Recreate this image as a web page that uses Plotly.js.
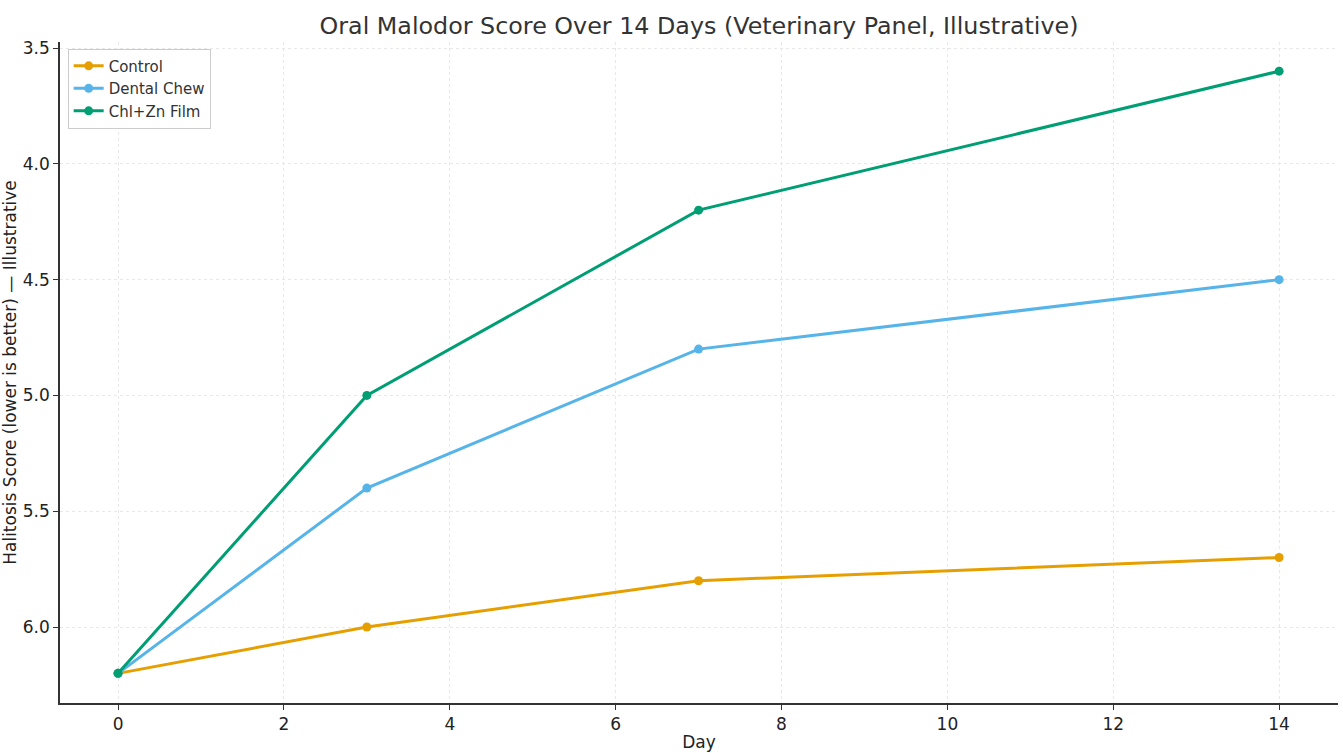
<!DOCTYPE html>
<html><head><meta charset="utf-8">
<script src="https://cdn.plot.ly/plotly-3.0.1.min.js"></script>
<style>html,body{margin:0;padding:0;background:#fff;}#chart{width:1343px;height:753px;}</style>
</head><body><div id="chart"></div>
<script>
const days = [0, 3, 7, 14];
const control = [6.2, 6.0, 5.8, 5.7];
const dentalChew = [6.2, 5.4, 4.8, 4.5];
const chlZnFilm = [6.2, 5.0, 4.2, 3.6];
const seriesNames = ["Control", "Dental Chew", "Chl+Zn Film"];
const colors = ["#E69F00", "#56B4E9", "#009E73"];
const xTicks = [0, 2, 4, 6, 8, 10, 12, 14];
const yTicks = [3.5, 4.0, 4.5, 5.0, 5.5, 6.0];

const traces = [control, dentalChew, chlZnFilm].map((ys, i) => ({
  x: days, y: ys, name: seriesNames[i], type: 'scatter', mode: 'lines+markers',
  line: {color: colors[i], width: 3}, marker: {color: colors[i], size: 9}
}));

const layout = {
  width: 1343, height: 753,
  margin: {l: 60, r: 5, t: 42, b: 50},
  paper_bgcolor: '#fff', plot_bgcolor: '#fff',
  font: {family: 'DejaVu Sans', color: '#333'},
  title: {text: 'Oral Malodor Score Over 14 Days (Veterinary Panel, Illustrative)', xref: 'paper', x: 0.5, xanchor: 'center', y: 0.977, yanchor: 'top', font: {size: 23.8, color: '#333'}},
  xaxis: {
    range: [-0.7, 14.71], tickvals: xTicks, ticktext: xTicks.map(String),
    showgrid: true, gridcolor: '#e8e8e8', griddash: '3px,3px', gridwidth: 1,
    zeroline: false, showline: true, linecolor: '#333', linewidth: 1.5,
    ticks: 'outside', ticklen: 5, tickcolor: '#333', tickfont: {size: 17, color: '#222'},
    title: {text: 'Day', font: {size: 17, color: '#222'}, standoff: 3}
  },
  yaxis: {
    range: [6.328, 3.474], tickvals: yTicks, ticktext: yTicks.map(v => v.toFixed(1)),
    showgrid: true, gridcolor: '#e8e8e8', griddash: '3px,3px', gridwidth: 1,
    zeroline: false, showline: true, linecolor: '#333', linewidth: 1.5,
    ticks: 'outside', ticklen: 5, tickcolor: '#333', tickfont: {size: 17, color: '#222'},
    title: {text: 'Halitosis Score (lower is better) — Illustrative', font: {size: 17, color: '#222'}, standoff: 10}
  },
  showlegend: true,
  legend: {x: 0.006, y: 0.99, xanchor: 'left', yanchor: 'top', bgcolor: 'rgba(255,255,255,0.9)', bordercolor: '#ccc', borderwidth: 1, font: {size: 15, color: '#333'}, tracegroupgap: 0}
};
Plotly.newPlot('chart', traces, layout, {displayModeBar: false});
</script></body></html>
